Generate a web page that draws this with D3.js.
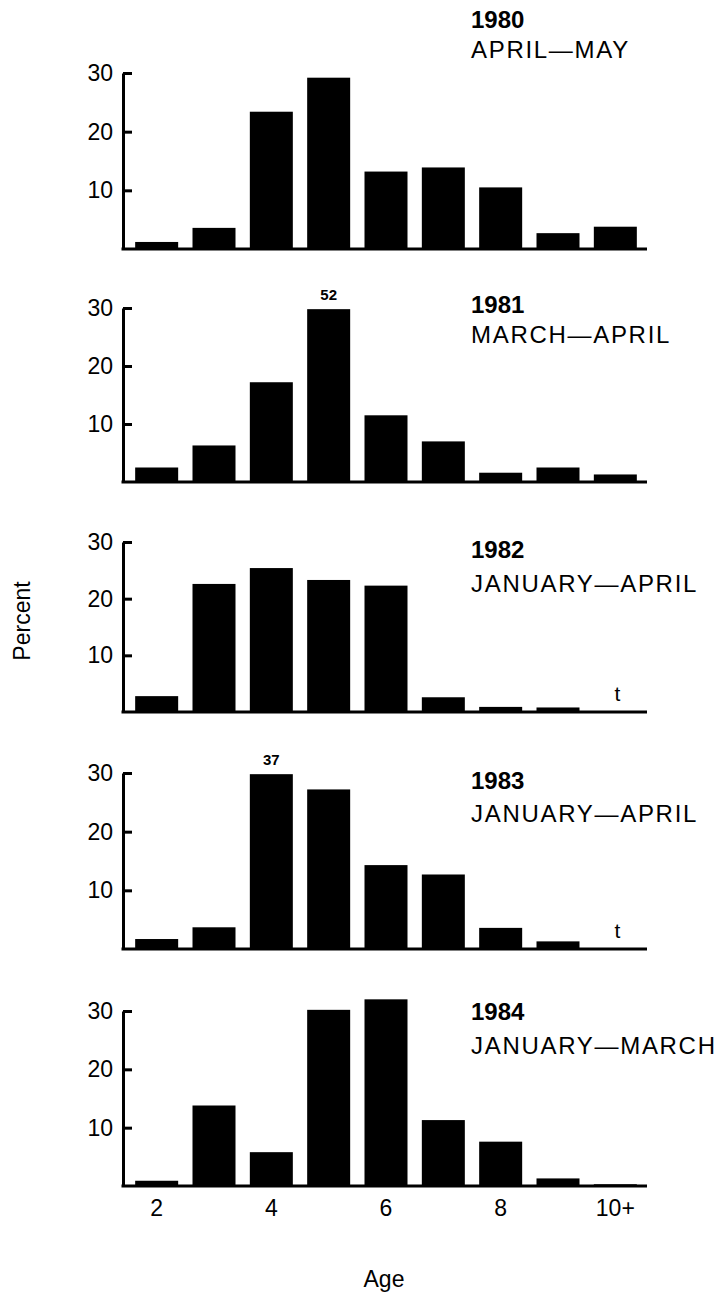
<!DOCTYPE html>
<html>
<head>
<meta charset="utf-8">
<script src="https://cdn.jsdelivr.net/npm/d3@7"></script>
<style>
  html, body { margin: 0; padding: 0; background: #fff; }
  svg { display: block; }
  text { font-family: "Liberation Sans", Arial, Helvetica, sans-serif; fill: #000; }
</style>
</head>
<body>
<svg id="chart" width="720" height="1302"></svg>
<script>
// ---- data ----
const ages = ["2", "3", "4", "5", "6", "7", "8", "9", "10+"];
const years = ["1980", "1981", "1982", "1983", "1984"];
const periods = ["APRIL\u2014MAY", "MARCH\u2014APRIL", "JANUARY\u2014APRIL", "JANUARY\u2014APRIL", "JANUARY\u2014MARCH"];
const pct1980 = [1.2, 3.6, 23.4, 29.2, 13.2, 13.9, 10.5, 2.7, 3.8];
const pct1981 = [2.5, 6.3, 17.2, 52, 11.5, 7.0, 1.6, 2.5, 1.3];
const pct1982 = [2.8, 22.6, 25.4, 23.3, 22.3, 2.6, 0.9, 0.8, "t"];
const pct1983 = [1.7, 3.7, 37, 27.2, 14.3, 12.7, 3.6, 1.3, "t"];
const pct1984 = [0.9, 13.8, 5.8, 30.2, 32.0, 11.3, 7.6, 1.3, 0.3];
const yTicks = [10, 20, 30];
const xTickLabels = ["2", "4", "6", "8", "10+"];
const yLabel = "Percent";
const xLabel = "Age";

const series = [pct1980, pct1981, pct1982, pct1983, pct1984];

// ---- layout ----
const baselines = [249, 482, 712, 949, 1186];
const tops = [73, 308, 542, 773, 1011];
const axisX = 123;
const baseEnd = 647;
const breakValue = 35;   // bars above this are cut at the top of the axis and labelled
const fontFam = '"Liberation Sans", Arial, Helvetica, sans-serif';

const svg = d3.select("#chart");

const x = d3.scaleBand().domain(ages).range([128, 644]).paddingInner(0.25).paddingOuter(0.125);

series.forEach((vals, i) => {
  const y = d3.scaleLinear().domain([0, 30]).range([baselines[i], tops[i]]);
  const g = svg.append("g");

  const data = ages.map((a, j) => ({ age: a, v: vals[j] }));

  // bars
  g.selectAll("rect.bar")
    .data(data.filter(d => typeof d.v === "number"))
    .join("rect")
    .attr("class", "bar")
    .attr("x", d => x(d.age))
    .attr("width", x.bandwidth())
    .attr("y", d => y(d.v > breakValue ? 29.8 : d.v))
    .attr("height", d => baselines[i] - y(d.v > breakValue ? 29.8 : d.v))
    .attr("fill", "#000");

  // values for cut bars
  g.selectAll("text.cut")
    .data(data.filter(d => typeof d.v === "number" && d.v > breakValue))
    .join("text")
    .attr("class", "cut")
    .attr("x", d => x(d.age) + x.bandwidth() / 2)
    .attr("y", y(30) - 8)
    .attr("text-anchor", "middle")
    .attr("font-size", 15)
    .attr("font-weight", "bold")
    .text(d => d.v);

  // trace marks
  g.selectAll("text.trace")
    .data(data.filter(d => d.v === "t"))
    .join("text")
    .attr("class", "trace")
    .attr("x", d => x(d.age) + x.bandwidth() / 2 + 2)
    .attr("y", baselines[i] - 11)
    .attr("text-anchor", "middle")
    .attr("font-size", 21)
    .text("t");

  // y axis
  const ya = g.append("g")
    .attr("transform", `translate(${axisX},0)`)
    .call(d3.axisLeft(y).tickValues(yTicks).tickSize(-9).tickSizeOuter(0).tickPadding(10));
  ya.select(".domain").attr("stroke", "#000").attr("stroke-width", 3);
  ya.selectAll(".tick line").attr("stroke", "#000").attr("stroke-width", 3);
  ya.selectAll(".tick text").attr("font-size", 23).attr("font-family", fontFam).attr("fill", "#000");

  // baseline
  g.append("line")
    .attr("x1", axisX - 1.5).attr("x2", baseEnd)
    .attr("y1", baselines[i]).attr("y2", baselines[i])
    .attr("stroke", "#000").attr("stroke-width", 3);

  // titles
  const titleY = [28, 313, 558, 789, 1020][i];
  const subY = [58, 343, 592, 822, 1054][i];
  g.append("text")
    .attr("x", 471).attr("y", titleY)
    .attr("font-size", 24).attr("font-weight", "bold")
    .text(years[i]);
  g.append("text")
    .attr("x", 471).attr("y", subY)
    .attr("font-size", 24).attr("letter-spacing", 1.7)
    .text(periods[i]);

  // x axis labels on bottom panel
  if (i === series.length - 1) {
    const xa = g.append("g")
      .attr("transform", `translate(0,${baselines[i]})`)
      .call(d3.axisBottom(x).tickValues(xTickLabels).tickSize(0).tickPadding(14));
    xa.select(".domain").remove();
    xa.selectAll(".tick text").attr("font-size", 23).attr("font-family", fontFam).attr("fill", "#000");
  }
});

// axis titles
svg.append("text")
  .attr("transform", "translate(30,621) rotate(-90)")
  .attr("text-anchor", "middle")
  .attr("font-size", 23)
  .text(yLabel);

svg.append("text")
  .attr("x", 384).attr("y", 1287)
  .attr("text-anchor", "middle")
  .attr("font-size", 23)
  .text(xLabel);
</script>
</body>
</html>
